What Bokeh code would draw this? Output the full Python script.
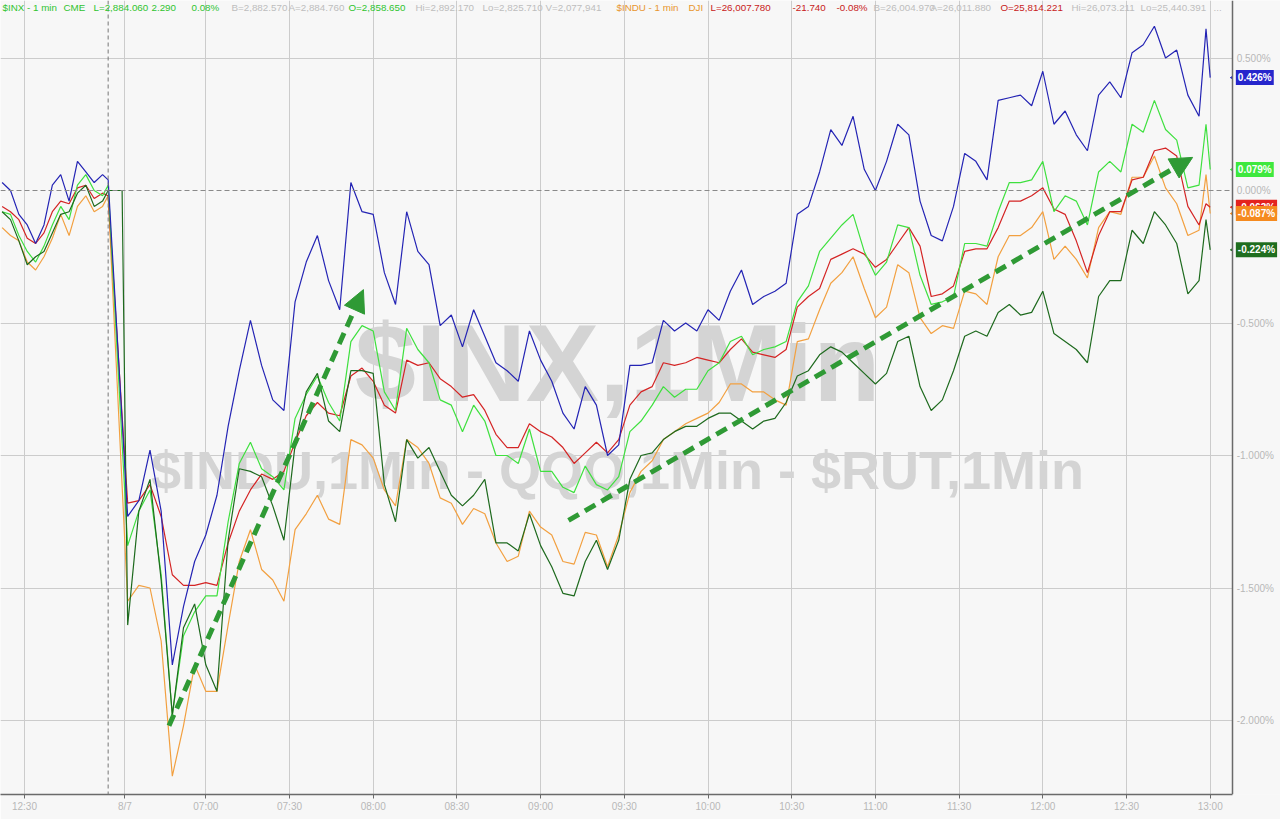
import math
from bokeh.plotting import figure
from bokeh.models import Range1d, FixedTicker, Span, Label, Arrow, NormalHead, BoxAnnotation
from bokeh.embed import file_html
from bokeh.resources import INLINE

# ---------------- data (percent change) ----------------
# minutes relative to the 8/7 06:30 open; prior session ends at -5
pre_times = [-43, -40, -37, -34, -31, -28, -25, -22, -19, -16, -13, -10, -7, -5]
session_times = [2 + 4 * k for k in range(97)] + [388.5, 390]
open_time = 0

inx_pre = [0.03, 0.00, -0.09, -0.13, -0.20, -0.13, 0.02, 0.06, -0.04, 0.11, 0.07, 0.03, 0.06, 0.04]
inx = [-1.23, -1.17, -0.98, -1.21, -1.79, -1.57, -1.40, -1.30, -1.15, -0.89,
       -0.68, -0.49, -0.66, -0.79, -0.83, -0.42, -0.27, -0.17, -0.34, -0.45,
       0.03, -0.08, -0.09, -0.31, -0.43, -0.08, -0.23, -0.28, -0.51, -0.47,
       -0.59, -0.45, -0.55, -0.65, -0.68, -0.72, -0.53, -0.64, -0.72, -0.84,
       -0.90, -0.74, -0.81, -1.00, -0.96, -0.66, -0.66, -0.65, -0.49, -0.53,
       -0.50, -0.53, -0.45, -0.49, -0.38, -0.30, -0.43, -0.40, -0.38, -0.35,
       -0.09, -0.06, 0.07, 0.23, 0.17, 0.28, 0.08, 0.00, 0.11, 0.25,
       0.21, -0.04, -0.17, -0.19, -0.06, 0.14, 0.11, 0.04, 0.34, 0.35,
       0.36, 0.32, 0.45, 0.25, 0.30, 0.21, 0.15, 0.36, 0.41, 0.35,
       0.52, 0.55, 0.62, 0.50, 0.53, 0.36, 0.28, 0.61, 0.426]

spx_pre = [-0.08, -0.09, -0.17, -0.23, -0.27, -0.21, -0.13, -0.06, -0.11, 0.02, 0.06, 0.00, -0.02, 0.02]
spx = [-1.34, -1.21, -1.13, -1.45, -1.98, -1.68, -1.59, -1.53, -1.53, -1.25,
       -1.03, -0.95, -1.05, -1.08, -1.13, -0.86, -0.77, -0.70, -0.80, -0.87,
       -0.57, -0.51, -0.53, -0.76, -0.83, -0.52, -0.60, -0.65, -0.79, -0.81,
       -0.91, -0.81, -0.87, -1.00, -1.00, -1.03, -0.90, -1.06, -1.06, -1.12,
       -1.14, -1.04, -1.11, -1.13, -1.08, -0.91, -0.87, -0.81, -0.74, -0.78,
       -0.75, -0.75, -0.68, -0.65, -0.57, -0.55, -0.62, -0.60, -0.59, -0.57,
       -0.42, -0.36, -0.23, -0.18, -0.13, -0.09, -0.23, -0.32, -0.27, -0.13,
       -0.14, -0.32, -0.43, -0.42, -0.40, -0.20, -0.20, -0.21, -0.08, 0.03,
       0.03, 0.04, 0.11, -0.08, -0.02, -0.04, -0.13, 0.07, 0.11, 0.07,
       0.25, 0.22, 0.34, 0.23, 0.19, 0.01, 0.02, 0.25, 0.079]

red_pre = [-0.06, -0.08, -0.11, -0.18, -0.20, -0.16, -0.08, -0.04, -0.05, 0.01, 0.02, -0.03, -0.01, -0.02]
red = [-1.18, -1.17, -1.11, -1.23, -1.45, -1.49, -1.49, -1.48, -1.49, -1.33,
       -1.21, -1.13, -1.07, -1.09, -1.06, -0.95, -0.85, -0.80, -0.84, -0.85,
       -0.70, -0.67, -0.72, -0.81, -0.84, -0.64, -0.66, -0.65, -0.71, -0.74,
       -0.78, -0.77, -0.83, -0.92, -0.97, -0.97, -0.88, -0.91, -0.93, -0.97,
       -1.03, -0.99, -0.95, -0.99, -0.94, -0.81, -0.76, -0.74, -0.65, -0.66,
       -0.65, -0.63, -0.64, -0.65, -0.60, -0.56, -0.61, -0.62, -0.63, -0.60,
       -0.44, -0.40, -0.37, -0.26, -0.24, -0.22, -0.24, -0.29, -0.26, -0.20,
       -0.14, -0.21, -0.40, -0.39, -0.36, -0.23, -0.22, -0.22, -0.14, -0.04,
       -0.04, -0.02, 0.01, -0.07, -0.09, -0.19, -0.31, -0.17, -0.08, -0.08,
       0.04, 0.05, 0.15, 0.16, 0.13, -0.06, -0.13, -0.05, -0.063]

indu_pre = [-0.14, -0.17, -0.19, -0.27, -0.30, -0.25, -0.18, -0.09, -0.17, -0.06, -0.02, -0.08, -0.06, -0.02]
indu = [-1.55, -1.49, -1.50, -1.70, -2.21, -2.02, -1.79, -1.89, -1.89, -1.64,
        -1.40, -1.28, -1.43, -1.47, -1.55, -1.28, -1.22, -1.15, -1.24, -1.26,
        -0.94, -0.96, -1.01, -1.13, -1.19, -0.94, -0.97, -1.03, -1.16, -1.18,
        -1.26, -1.20, -1.22, -1.33, -1.40, -1.38, -1.21, -1.27, -1.30, -1.40,
        -1.41, -1.29, -1.30, -1.42, -1.30, -1.14, -1.06, -1.02, -0.94, -0.91,
        -0.88, -0.86, -0.84, -0.80, -0.73, -0.73, -0.76, -0.76, -0.79, -0.81,
        -0.57, -0.56, -0.45, -0.35, -0.31, -0.25, -0.37, -0.48, -0.44, -0.28,
        -0.31, -0.48, -0.54, -0.51, -0.52, -0.38, -0.39, -0.43, -0.25, -0.17,
        -0.17, -0.14, -0.08, -0.26, -0.21, -0.26, -0.33, -0.14, -0.08, -0.09,
        0.05, 0.05, 0.13, 0.01, -0.05, -0.17, -0.15, 0.06, -0.087]

rut_pre = [-0.08, -0.11, -0.19, -0.28, -0.25, -0.23, -0.16, -0.09, -0.08, -0.01, 0.02, -0.06, -0.04, 0.00]
rut_open = 0.0
rut = [-1.64, -1.21, -1.09, -1.47, -1.98, -1.65, -1.56, -1.79, -1.89, -1.32,
       -1.05, -1.06, -1.08, -1.19, -1.32, -0.96, -0.76, -0.69, -0.87, -0.91,
       -0.68, -0.68, -0.69, -1.11, -1.25, -0.94, -1.01, -0.97, -1.06, -1.15,
       -1.19, -1.15, -1.09, -1.33, -1.33, -1.36, -1.22, -1.34, -1.42, -1.52,
       -1.53, -1.40, -1.32, -1.43, -1.32, -1.09, -1.00, -0.99, -0.94, -0.91,
       -0.89, -0.89, -0.86, -0.84, -0.84, -0.87, -0.90, -0.87, -0.86, -0.80,
       -0.70, -0.68, -0.62, -0.59, -0.61, -0.65, -0.69, -0.73, -0.69, -0.57,
       -0.55, -0.74, -0.83, -0.79, -0.68, -0.55, -0.53, -0.55, -0.46, -0.43,
       -0.47, -0.46, -0.38, -0.54, -0.57, -0.60, -0.65, -0.40, -0.34, -0.34,
       -0.15, -0.20, -0.08, -0.13, -0.20, -0.39, -0.34, -0.11, -0.224]

tick_times = [-35, 1, 30, 60, 90, 120, 150, 180, 210, 240, 270, 300, 330, 360, 390]
tick_labels = ["12:30", "8/7", "07:00", "07:30", "08:00", "08:30", "09:00", "09:30",
               "10:00", "10:30", "11:00", "11:30", "12:00", "12:30", "13:00"]
y_ticks = [0.5, 0.0, -0.5, -1.0, -1.5, -2.0]
session_break = -5

last_labels = ["0.426%", "0.079%", "-0.063%", "-0.087%", "-0.224%"]
last_values = [0.426, 0.079, -0.063, -0.087, -0.224]

arrow1 = dict(x_start=16.8, y_start=-2.02, x_end=86.5, y_end=-0.374)
arrow2 = dict(x_start=160.0, y_start=-1.245, x_end=383.7, y_end=0.125)

header = [
    ("$INX - 1 min", "#2fc42f", 2), ("CME", "#2fc42f", 63), ("L=2,884.060", "#2fc42f", 93),
    ("2.290", "#2fc42f", 151), ("0.08%", "#2fc42f", 191), ("B=2,882.570", "#bdbdbd", 231),
    ("A=2,884.760", "#bdbdbd", 288), ("O=2,858.650", "#2fc42f", 348), ("Hi=2,892.170", "#bdbdbd", 415),
    ("Lo=2,825.710", "#bdbdbd", 482), ("V=2,077,941", "#bdbdbd", 545), ("$INDU - 1 min", "#e8962e", 616),
    ("DJI", "#e8962e", 688), ("L=26,007.780", "#c82020", 710), ("-21.740", "#c82020", 792),
    ("-0.08%", "#c82020", 836), ("B=26,004.970", "#bdbdbd", 873), ("A=26,011.880", "#bdbdbd", 930),
    ("O=25,814.221", "#c82020", 1000), ("Hi=26,073.211", "#bdbdbd", 1071), ("Lo=25,440.391", "#bdbdbd", 1140),
    ("...", "#bdbdbd", 1213),
]

# ---------------- figure ----------------
BG = "#f7f7f7"
PX_PER_MIN = 2.79
PX_PER_PCT = 265.0
X0 = -121.6 / PX_PER_MIN
X1 = X0 + 1280 / PX_PER_MIN
X_AXIS = X0 + 1232 / PX_PER_MIN      # value axis line
FRAME_H = 794
Y1 = 190 / PX_PER_PCT
Y0 = Y1 - FRAME_H / PX_PER_PCT

p = figure(width=1280, height=819, output_backend="svg", toolbar_location=None,
           x_range=Range1d(X0, X1), y_range=Range1d(Y0, Y1),
           y_axis_location=None, min_border_left=0, min_border_top=0,
           min_border_right=0, min_border_bottom=819 - FRAME_H,
           background_fill_color=BG, border_fill_color=BG)
p.outline_line_color = None

FONT = "Liberation Sans"

# watermark
for txt, yy, fs in [("$INX,1Min", -0.649, "110px"), ("$INDU,1Min - QQQ,1Min - $RUT,1Min", -1.053, "54px")]:
    p.add_layout(Label(x=617, y=yy, x_units="screen", y_units="data", text=txt,
                       text_align="center", text_baseline="middle", text_font=FONT,
                       text_font_style="bold", text_font_size=fs, text_color="#d4d4d4",
                       level="underlay"))

# time axis
xa = p.xaxis[0]
xa.ticker = FixedTicker(ticks=tick_times, minor_ticks=[])
xa.major_label_overrides = {t: l for t, l in zip(tick_times, tick_labels)}
xa.bounds = (X0, X_AXIS)
xa.axis_line_color = "#6a6a6a"
xa.axis_line_width = 1.5
xa.major_tick_line_color = "#6a6a6a"
xa.major_tick_out = 4
xa.major_tick_in = 0
xa.minor_tick_out = 0
xa.minor_tick_in = 0
xa.major_label_text_color = "#b8b8b8"
xa.major_label_text_font_size = "10px"
xa.major_label_text_font = FONT
xa.major_label_standoff = 2

p.xgrid.grid_line_color = "#cccccc"
p.ygrid.ticker = FixedTicker(ticks=[t for t in y_ticks if t != 0])
p.ygrid.grid_line_color = "#cccccc"

p.add_layout(Span(location=0, dimension="width", line_color="#8a8a8a", line_dash="5 3", line_width=1))
p.add_layout(Span(location=session_break, dimension="height", line_color="#777777", line_dash="4 3", line_width=1))

# series
series = [
    (pre_times + session_times, indu_pre + indu, "#f2a040"),
    (pre_times + session_times, red_pre + red, "#d42424"),
    (pre_times + session_times, spx_pre + spx, "#3fe03f"),
    (pre_times + [open_time] + session_times, rut_pre + [rut_open] + rut, "#1e6a1e"),
    (pre_times + session_times, inx_pre + inx, "#2424b4"),
]
for xs, ys, c in series:
    p.line(xs, ys, line_color=c, line_width=1.2)

# arrows
AC = "#2f9a35"
for a in (arrow1, arrow2):
    p.add_layout(Arrow(end=NormalHead(size=22, fill_color=AC, line_color=AC),
                       line_color=AC, line_width=5, line_dash="12 7", **a))

# header
for txt, col, rx in header:
    p.add_layout(Label(x=rx, y=0.69, x_units="screen", y_units="data", text=txt,
                       text_align="left", text_baseline="middle", text_font=FONT,
                       text_font_size="9.8px", text_color=col))

# value axis column (right)
p.add_layout(BoxAnnotation(left=X_AXIS, fill_color=BG, fill_alpha=1.0, line_color=None))
p.add_layout(Span(location=X_AXIS, dimension="height", line_color="#6a6a6a", line_width=1.5))
p.segment(x0=[X_AXIS] * len(y_ticks), x1=[X_AXIS + 1.4] * len(y_ticks), y0=y_ticks, y1=y_ticks,
          line_color="#6a6a6a", line_width=1)
for v in y_ticks:
    p.add_layout(Label(x=X_AXIS + 1.5, y=v, x_units="data", y_units="data", text=f"{v:.3f}%",
                       text_align="left", text_baseline="middle", text_font=FONT,
                       text_font_size="10px", text_color="#b8b8b8"))

# last-value tags
tag_colors = ["#2626cc", "#3ee83e", "#e4221e", "#f58a1f", "#1f6e1f"]
for txt, v, c in zip(last_labels, last_values, tag_colors):
    p.scatter([X_AXIS + 1.1], [v], marker="triangle", angle=math.pi / 2, size=9,
              fill_color=c, line_color=c)
    p.add_layout(Label(x=X_AXIS + 1.2, y=v, x_units="data", y_units="data", text=txt,
                       text_align="left", text_baseline="middle", text_font=FONT,
                       text_font_style="bold", text_font_size="10px", text_color="white",
                       background_fill_color=c, padding=2))

open("out.html", "w").write(file_html(p, INLINE))
